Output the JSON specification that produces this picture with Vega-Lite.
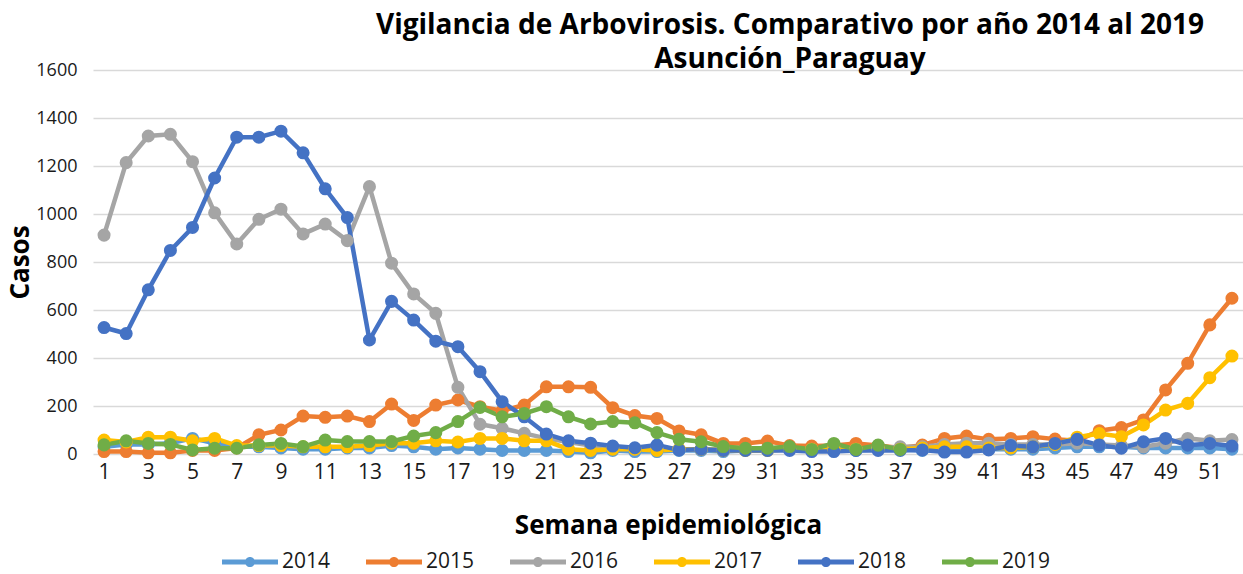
{
  "$schema": "https://vega.github.io/schema/vega-lite/v6.json",
  "autosize": {"type": "none"},
  "padding": {"left": 93, "top": 70, "right": 0, "bottom": 120},
  "width": 1150,
  "height": 384,
  "background": "white",
  "config": {
    "view": {"stroke": null},
    "font": "Open Sans"
  },
  "title": {
    "text": ["Vigilancia de Arbovirosis. Comparativo por año 2014 al 2019", "Asunción_Paraguay"],
    "fontSize": 28,
    "fontWeight": "bold",
    "font": "Open Sans",
    "color": "#000000",
    "anchor": "middle",
    "dx": 122,
    "offset": -13,
    "lineHeight": 34
  },
  "data": {
    "values": [
      {"w":1,"2014":30,"2015":10,"2016":912,"2017":58,"2018":527,"2019":38},
      {"w":2,"2014":40,"2015":10,"2016":1214,"2017":50,"2018":502,"2019":55},
      {"w":3,"2014":40,"2015":5,"2016":1325,"2017":70,"2018":684,"2019":44},
      {"w":4,"2014":45,"2015":5,"2016":1332,"2017":70,"2018":848,"2019":40},
      {"w":5,"2014":65,"2015":15,"2016":1218,"2017":55,"2018":944,"2019":17},
      {"w":6,"2014":45,"2015":15,"2016":1005,"2017":65,"2018":1150,"2019":24},
      {"w":7,"2014":30,"2015":25,"2016":875,"2017":35,"2018":1320,"2019":24},
      {"w":8,"2014":30,"2015":80,"2016":978,"2017":35,"2018":1320,"2019":38},
      {"w":9,"2014":25,"2015":100,"2016":1020,"2017":35,"2018":1345,"2019":44},
      {"w":10,"2014":20,"2015":158,"2016":917,"2017":30,"2018":1255,"2019":31},
      {"w":11,"2014":20,"2015":153,"2016":958,"2017":30,"2018":1105,"2019":58},
      {"w":12,"2014":25,"2015":158,"2016":889,"2017":30,"2018":985,"2019":52},
      {"w":13,"2014":25,"2015":135,"2016":1114,"2017":35,"2018":475,"2019":52},
      {"w":14,"2014":35,"2015":208,"2016":795,"2017":45,"2018":636,"2019":52},
      {"w":15,"2014":30,"2015":140,"2016":667,"2017":45,"2018":558,"2019":75},
      {"w":16,"2014":20,"2015":204,"2016":586,"2017":55,"2018":470,"2019":89},
      {"w":17,"2014":25,"2015":225,"2016":278,"2017":50,"2018":447,"2019":135},
      {"w":18,"2014":20,"2015":197,"2016":124,"2017":65,"2018":343,"2019":194},
      {"w":19,"2014":15,"2015":180,"2016":107,"2017":65,"2018":218,"2019":155},
      {"w":20,"2014":15,"2015":204,"2016":86,"2017":55,"2018":155,"2019":169},
      {"w":21,"2014":15,"2015":280,"2016":65,"2017":55,"2018":83,"2019":197},
      {"w":22,"2014":10,"2015":280,"2016":50,"2017":20,"2018":55,"2019":155},
      {"w":23,"2014":5,"2015":278,"2016":35,"2017":15,"2018":45,"2019":125},
      {"w":24,"2014":15,"2015":193,"2016":25,"2017":20,"2018":33,"2019":135},
      {"w":25,"2014":10,"2015":160,"2016":20,"2017":20,"2018":26,"2019":130},
      {"w":26,"2014":10,"2015":148,"2016":20,"2017":15,"2018":37,"2019":89},
      {"w":27,"2014":15,"2015":96,"2016":20,"2017":20,"2018":17,"2019":61},
      {"w":28,"2014":15,"2015":80,"2016":20,"2017":20,"2018":20,"2019":51},
      {"w":29,"2014":10,"2015":44,"2016":20,"2017":15,"2018":15,"2019":31},
      {"w":30,"2014":15,"2015":44,"2016":20,"2017":15,"2018":15,"2019":24},
      {"w":31,"2014":15,"2015":54,"2016":20,"2017":15,"2018":15,"2019":24},
      {"w":32,"2014":20,"2015":35,"2016":20,"2017":20,"2018":15,"2019":31},
      {"w":33,"2014":15,"2015":33,"2016":20,"2017":20,"2018":10,"2019":19},
      {"w":34,"2014":20,"2015":35,"2016":20,"2017":20,"2018":10,"2019":44},
      {"w":35,"2014":15,"2015":44,"2016":20,"2017":20,"2018":15,"2019":19},
      {"w":36,"2014":20,"2015":35,"2016":25,"2017":20,"2018":15,"2019":37},
      {"w":37,"2014":20,"2015":25,"2016":30,"2017":20,"2018":15,"2019":19},
      {"w":38,"2014":15,"2015":37,"2016":30,"2017":25,"2018":17},
      {"w":39,"2014":20,"2015":65,"2016":40,"2017":30,"2018":8},
      {"w":40,"2014":20,"2015":75,"2016":45,"2017":30,"2018":8},
      {"w":41,"2014":20,"2015":61,"2016":45,"2017":25,"2018":17},
      {"w":42,"2014":20,"2015":65,"2016":40,"2017":25,"2018":35},
      {"w":43,"2014":20,"2015":72,"2016":40,"2017":30,"2018":30},
      {"w":44,"2014":25,"2015":62,"2016":40,"2017":40,"2018":44},
      {"w":45,"2014":30,"2015":55,"2016":45,"2017":70,"2018":61},
      {"w":46,"2014":30,"2015":97,"2016":40,"2017":85,"2018":37},
      {"w":47,"2014":30,"2015":110,"2016":35,"2017":72,"2018":24},
      {"w":48,"2014":25,"2015":142,"2016":30,"2017":121,"2018":51},
      {"w":49,"2014":25,"2015":267,"2016":45,"2017":183,"2018":65},
      {"w":50,"2014":25,"2015":378,"2016":65,"2017":211,"2018":37},
      {"w":51,"2014":25,"2015":538,"2016":55,"2017":318,"2018":44},
      {"w":52,"2014":20,"2015":649,"2016":60,"2017":408,"2018":33}
    ]
  },
  "transform": [
    {"fold": ["2014", "2015", "2016", "2017", "2018", "2019"], "as": ["year", "casos"]}
  ],
  "encoding": {
    "x": {
      "field": "w",
      "type": "quantitative",
      "scale": {"domain": [0.5, 52.5], "nice": false, "zero": false},
      "axis": {
        "values": [1,3,5,7,9,11,13,15,17,19,21,23,25,27,29,31,33,35,37,39,41,43,45,47,49,51],
        "grid": false,
        "ticks": false,
        "domain": false,
        "labelFontSize": 21,
        "labelColor": "#1a1a1a",
        "labelPadding": 7,
        "labelFont": "Open Sans",
        "title": "Semana epidemiológica",
        "titleFontSize": 26,
        "titleFontWeight": "bold",
        "titleColor": "#000000",
        "titlePadding": 30
      }
    },
    "y": {
      "field": "casos",
      "type": "quantitative",
      "scale": {"domain": [0, 1600], "nice": false},
      "axis": {
        "values": [0,200,400,600,800,1000,1200,1400,1600],
        "format": "d",
        "domain": false,
        "ticks": false,
        "gridColor": "#D9D9D9",
        "gridWidth": 1.5,
        "labelFontSize": 18,
        "labelColor": "#1a1a1a",
        "labelPadding": 16,
        "title": "Casos",
        "titleFontSize": 26,
        "titleFontWeight": "bold",
        "titleColor": "#000000",
        "titlePadding": 2
      }
    },
    "color": {
      "field": "year",
      "type": "nominal",
      "scale": {
        "domain": ["2014", "2015", "2016", "2017", "2018", "2019"],
        "range": ["#5B9BD5", "#ED7D31", "#A5A5A5", "#FFC000", "#4472C4", "#70AD47"]
      },
      "legend": {
        "title": null,
        "orient": "none",
        "direction": "horizontal",
        "legendX": 129,
        "legendY": 464,
        "symbolType": "M-1,-0.09L1,-0.09L1,0.09L-1,0.09Z M0.18,0A0.18,0.18,0,1,1,-0.18,0A0.18,0.18,0,1,1,0.18,0Z",
        "symbolSize": 3136,
        "symbolOpacity": 1,
        "symbolStrokeWidth": 0,
        "labelFontSize": 21,
        "labelFont": "Open Sans",
        "labelColor": "#1a1a1a",
        "labelOffset": 4,
        "columnPadding": 35
      }
    }
  },
  "layer": [
    {
      "mark": {"type": "line", "strokeWidth": 4.5}
    },
    {
      "mark": {"type": "circle", "size": 170, "opacity": 1}
    }
  ]
}
